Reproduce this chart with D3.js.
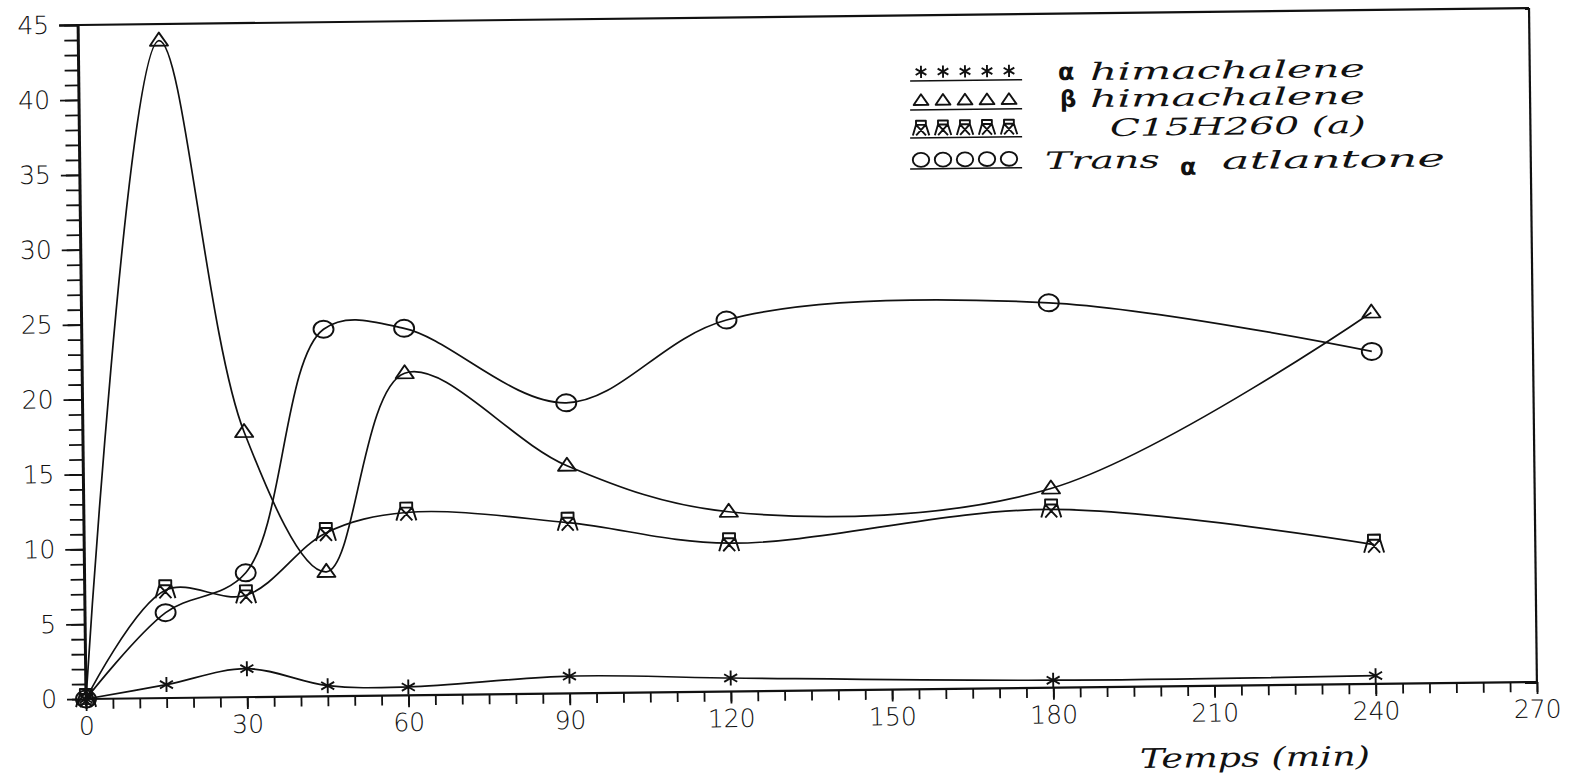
<!DOCTYPE html>
<html>
<head>
<meta charset="utf-8">
<script src="https://cdn.jsdelivr.net/npm/d3@7"></script>
<style>
    body { margin: 0; background: #fff; }
    svg { display: block; }
    .tick text { font-family: "DejaVu Sans", sans-serif; font-weight: 200; font-size: 25px; fill: #111; }
    .serif { font-family: "DejaVu Serif", serif; font-style: italic; fill: #111; }
    .greek { font-family: "DejaVu Sans", sans-serif; font-weight: bold; fill: #111; }
</style>
</head>
<body>
<svg id="chart" width="1570" height="781"></svg>
<script>
// Data (time in minutes, %)
const times = [0, 15, 30, 45, 60, 90, 120, 180, 240];
const alphaHimachalene = [0, 0.9, 1.9, 0.7, 0.55, 1.15, 0.9, 0.5, 0.55];
const betaHimachalene = [0, 43.9, 17.7, 8.3, 21.5, 15.2, 12.0, 13.3, 24.8];
const c15h260 = [0, 7.2, 6.8, 10.9, 12.2, 11.4, 9.9, 11.9, 9.3];
const transAtlantone = [0, 5.7, 8.3, 24.5, 24.5, 19.4, 24.8, 25.7, 22.2];

const xTickValues = [0, 30, 60, 90, 120, 150, 180, 210, 240, 270];
const yTickValues = [0, 5, 10, 15, 20, 25, 30, 35, 40, 45];
const xLabel = "Temps (min)";

const series = [
    { values: alphaHimachalene, marker: "star" },
    { values: betaHimachalene, marker: "triangle" },
    { values: c15h260, marker: "c15" },
    { values: transAtlantone, marker: "circle" }
];

// Layout (the scanned chart is slightly tilted)
const origin = { x: 86, y: 699 };
const tilt = -0.67;
const plotRight = 1537, plotTop = 25;

const svg = d3.select("#chart");
const g = svg.append("g")
    .attr("transform", `rotate(${tilt},${origin.x},${origin.y})`);

// screen position -> position inside the tilted group
function untilt(sx, sy) {
    const a = -tilt * Math.PI / 180;
    const dx = sx - origin.x, dy = sy - origin.y;
    return [origin.x + dx * Math.cos(a) - dy * Math.sin(a),
            origin.y + dx * Math.sin(a) + dy * Math.cos(a)];
}

const x = d3.scaleLinear().domain([0, 270]).range([origin.x, plotRight]);
const y = d3.scaleLinear().domain([0, 45]).range([origin.y, plotTop]);

// Axes
const yMinor = g.append("g")
    .attr("transform", `translate(${origin.x},0)`)
    .call(d3.axisLeft(y).tickValues(d3.range(0, 46)).tickSize(14).tickFormat(""));
const yMajor = g.append("g")
    .attr("transform", `translate(${origin.x},0)`)
    .call(d3.axisLeft(y).tickValues(yTickValues).tickSize(19).tickPadding(10));
const xMinor = g.append("g")
    .attr("transform", `translate(0,${origin.y})`)
    .call(d3.axisBottom(x).tickValues(d3.range(0, 271, 5)).tickSize(10).tickFormat(""));
const xMajor = g.append("g")
    .attr("transform", `translate(0,${origin.y})`)
    .call(d3.axisBottom(x).tickValues(xTickValues).tickSize(12).tickPadding(6));

[yMinor, yMajor, xMinor, xMajor].forEach(a => {
    a.selectAll("line").attr("stroke", "#111").attr("stroke-width", 1.8);
    a.select(".domain").remove();
});

// Frame
g.append("line").attr("x1", x(0)).attr("x2", x(0)).attr("y1", y(45)).attr("y2", y(0))
    .attr("stroke", "#111").attr("stroke-width", 3);
g.append("line").attr("x1", x(0)).attr("x2", x(270)).attr("y1", y(0)).attr("y2", y(0))
    .attr("stroke", "#111").attr("stroke-width", 2.2);
g.append("line").attr("x1", x(0) - 19).attr("x2", x(270)).attr("y1", y(45)).attr("y2", y(45))
    .attr("stroke", "#111").attr("stroke-width", 2.2);
g.append("line").attr("x1", x(270)).attr("x2", x(270)).attr("y1", y(45)).attr("y2", y(0))
    .attr("stroke", "#111").attr("stroke-width", 2.2);

// Marker shapes
const markerPath = {
    star: "M0,-7.5L0,7.5M-6.5,-3.8L6.5,3.8M-6.5,3.8L6.5,-3.8",
    triangle: "M0,-8L9,5L-9,5Z",
    c15: "M-6,-10H6V-5H-6ZM-6,-5L-10,8M6,-5L10,8M-6,-5L6,8M6,-5L-6,8",
    circle: "M-10,0A10,8.5 0 1,0 10,0A10,8.5 0 1,0 -10,0Z"
};

function drawMarker(sel, type, k = 1) {
    sel.append("path")
        .attr("d", markerPath[type])
        .attr("transform", `scale(${k})`)
        .attr("fill", "none")
        .attr("stroke", "#111")
        .attr("stroke-width", 1.9 / k)
        .attr("stroke-linejoin", "round");
}

// Curves
const line = d3.line()
    .x((d, i) => x(times[i]))
    .y(d => y(d))
    .curve(d3.curveCatmullRom.alpha(0.5));

series.forEach(s => {
    g.append("path")
        .datum(s.values)
        .attr("fill", "none")
        .attr("stroke", "#111")
        .attr("stroke-width", 1.7)
        .attr("d", line);

    g.selectAll(null)
        .data(s.values)
        .enter()
        .append("g")
        .attr("transform", (d, i) => `translate(${x(times[i])},${y(d)})`)
        .each(function() { drawMarker(d3.select(this), s.marker); });
});

// Legend
const legendRows = [
    { marker: "star", sy: 72 },
    { marker: "triangle", sy: 101 },
    { marker: "c15", sy: 129 },
    { marker: "circle", sy: 160 }
];

legendRows.forEach(r => {
    const [lx, ly] = untilt(910, r.sy);
    const row = g.append("g").attr("transform", `translate(${lx},${ly})`);
    d3.range(5).forEach(k => {
        const m = row.append("g").attr("transform", `translate(${11 + k * 22},0)`);
        drawMarker(m, r.marker, 0.82);
    });
    row.append("line").attr("x1", 0).attr("x2", 112).attr("y1", 9).attr("y2", 9)
        .attr("stroke", "#111").attr("stroke-width", 1.6);
});

function legendText(sx, sy, str, cls, size, len) {
    const [tx, ty] = untilt(sx, sy);
    const t = g.append("text")
        .attr("class", cls)
        .attr("x", tx).attr("y", ty)
        .style("font-size", size + "px")
        .text(str);
    if (len) t.attr("textLength", len).attr("lengthAdjust", "spacingAndGlyphs");
}

legendText(1058, 80, "α", "greek", 24);
legendText(1090, 80, "himachalene", "serif", 24, 275);
legendText(1060, 107, "β", "greek", 23);
legendText(1090, 107, "himachalene", "serif", 24, 275);
legendText(1110, 136, "C15H260 (a)", "serif", 24, 256);
legendText(1045, 169, "Trans", "serif", 24, 115);
legendText(1180, 175, "α", "greek", 24);
legendText(1222, 169, "atlantone", "serif", 24, 223);

// Axis title
legendText(1140, 768, xLabel, "serif", 27, 230);
</script>
</body>
</html>
